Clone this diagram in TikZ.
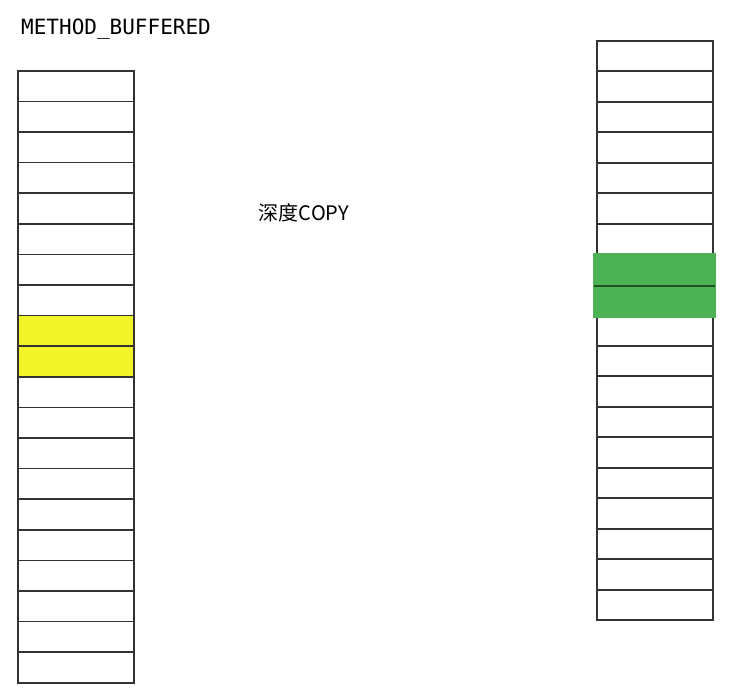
\documentclass[tikz,border=0pt]{standalone}
\usepackage{fontspec}
\setmonofont{DejaVu Sans Mono}
\newfontfamily\cjk{Noto Sans CJK SC}
\usepackage[dvipsnames]{xcolor}
\usepackage{tikz}

\definecolor{bufyellow}{RGB}{242,244,42}
\definecolor{bufgreen}{RGB}{76,178,84}

\begin{document}
\begin{tikzpicture}[x=1pt, y=-1pt,
  cell/.style={draw=black!80, line width=1.6pt, minimum width=116pt, minimum height=30.6pt, inner sep=0pt, outer sep=0pt},
  greencell/.style={cell, fill=bufgreen, draw=bufgreen, minimum width=121pt}]
  \useasboundingbox (0,0) rectangle (734,699);
  % user buffer
  \foreach \i in {1,...,20}
    \node[cell] (l\i) at (76, 70.7+30.6*\i-15.3) {};
  \node[cell, fill=bufyellow] (l9) at (76, 70.7+30.6*9-15.3) {};
  \node[cell, fill=bufyellow] (l10) at (76, 70.7+30.6*10-15.3) {};
  % system buffer
  \foreach \i in {1,...,19}
    \node[cell, minimum height=30.5pt] (r\i) at (655, 40.7+30.5*\i-15.25) {};
  \node[greencell, minimum height=31.5pt] (r8) at (654.5, 270) {};
  \node[greencell, minimum height=31.5pt] (r9) at (654.5, 301.5) {};
  \draw[bufgreen!45!black, line width=1.6pt] (r8.south west) -- (r8.south east);
  \node[anchor=west, font=\ttfamily\fontsize{21}{23}\selectfont, inner sep=0pt] (title) at (21, 29) {METHOD\_BUFFERED};
  \node[font=\cjk\fontsize{20}{22}\selectfont, inner sep=0pt] (copy) at (304, 213) {深度COPY};
\end{tikzpicture}
\end{document}
